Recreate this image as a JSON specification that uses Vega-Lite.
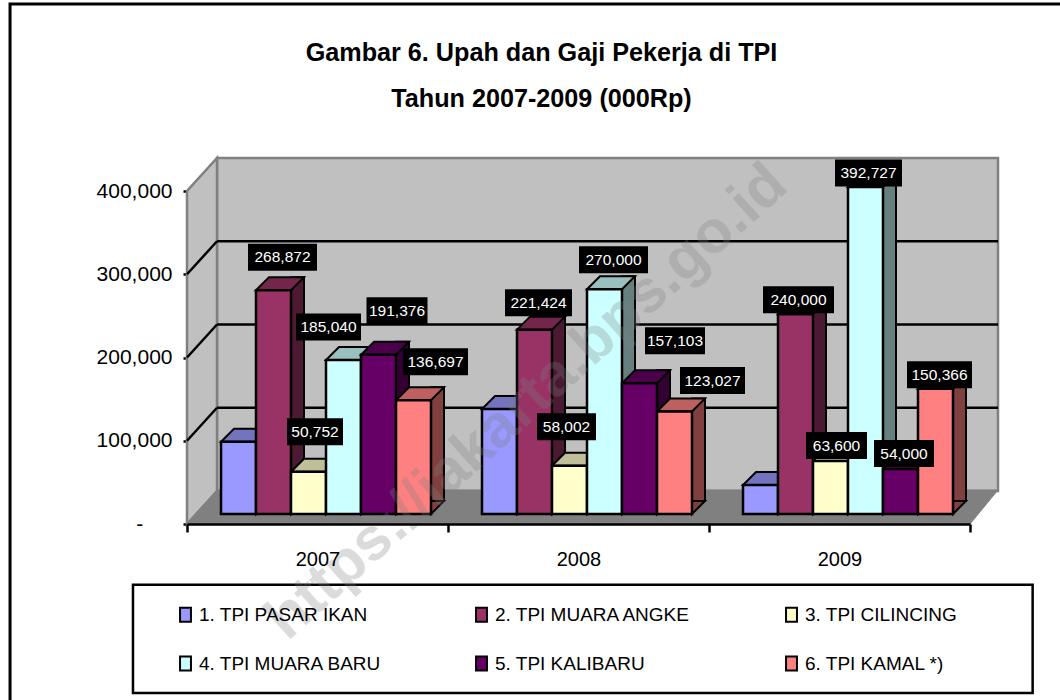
{
"$schema":"https://vega.github.io/schema/vega-lite/v6.json",
"width":783,"height":333,
"autosize":"none",
"padding":{"left":187,"top":191,"right":90,"bottom":176},
"background":"white",
"params":[
{"name":"lbl","value":{"268872":[-35,-33,69],"50752":[-2.5,-40,56],"185040":[11,-33,65],"191376":[79.5,-44,61],"136697":[118,-38.5,65],"221424":[-40,-27,67],"58002":[-12,-39,59],"270000":[35,-29.5,69],"157103":[96.5,-42.5,60],"123027":[134,-31,65],"240000":[-41,-14.5,71],"63600":[-3,-15.5,61],"392727":[29,-14,67],"54000":[64.5,-15.5,60],"150366":[100,-14,65]}}
],
"title":{"text":["Gambar 6. Upah dan Gaji Pekerja di TPI","Tahun 2007-2009 (000Rp)"],"anchor":"middle","dx":-37,"offset":-110,"font":"Liberation Sans","fontSize":25.2,"fontWeight":"bold","lineHeight":46,"color":"black"},
"config":{"view":{"stroke":null},"font":"Liberation Sans",
 "axisY":{"tickCount":5,"labelExpr":"datum.value==0?'-\u00a0\u00a0\u00a0\u00a0\u00a0\u200b':format(datum.value,',')","grid":false,"domainColor":"black","domainWidth":2.5,"tickColor":"black","tickWidth":2.5,"tickSize":4,"labelFontSize":21,"labelColor":"black","labelFont":"Liberation Sans","labelPadding":11,"zindex":1}},
"resolve":{"scale":{"x":"independent","color":"independent"}},
"layer":[
{"data":{"values":[{"k":"frame"}]},
 "layer":[
 {"mark":{"type":"rect","fill":"transparent","stroke":"black","strokeWidth":3},
  "encoding":{"x":{"datum":-0.226,"type":"quantitative","scale":{"domain":[0,1]},"axis":null},"x2":{"datum":1.3},
   "y":{"datum":624600,"type":"quantitative","title":null,"scale":{"domain":[0,400000],"nice":false}},
   "y2":{"datum":-400000}}},
 {"mark":{"type":"rect","fill":"transparent","stroke":"black","strokeWidth":2.5},
  "encoding":{"x":{"datum":-0.069,"type":"quantitative","scale":{"domain":[0,1]},"axis":null},"x2":{"datum":1.08},
   "y":{"datum":-73000,"type":"quantitative","title":null},"y2":{"datum":-203000}}},
 {"mark":{"type":"rect","fill":"#C0C0C0","stroke":"#808080","strokeWidth":2.5,"xOffset":30,"x2Offset":28,"yOffset":-33,"y2Offset":-33},
  "encoding":{"x":{"datum":0,"type":"quantitative","axis":null},"x2":{"datum":1},"y":{"datum":400000,"type":"quantitative","title":null},"y2":{"datum":0}}},
 {"mark":{"type":"point","shape":"M0,0L30,-33L30,-366L0,-333Z","size":4,"filled":true,"fill":"#C0C0C0","stroke":"#808080","strokeWidth":2.5,"opacity":1},
  "encoding":{"x":{"datum":0,"type":"quantitative","axis":null},"y":{"datum":0,"type":"quantitative","title":null}}},
 {"mark":{"type":"point","shape":"M0,0L30,-34L811,-34L783,0Z","size":4,"filled":true,"fill":"#808080","stroke":"#808080","strokeWidth":1,"opacity":1},
  "encoding":{"x":{"datum":0,"type":"quantitative","axis":null},"y":{"datum":0,"type":"quantitative","title":null}}}
 ]},
{"data":{"values":[{"tick":100000},{"tick":200000},{"tick":300000}]},
 "layer":[
 {"mark":{"type":"rule","stroke":"black","strokeWidth":2.5,"xOffset":30,"x2Offset":28,"yOffset":-33},
  "encoding":{"x":{"datum":0,"type":"quantitative","axis":null},"x2":{"datum":1},"y":{"field":"tick","type":"quantitative","title":null}}},
 {"mark":{"type":"point","shape":"M0,0L30,-33","size":4,"filled":false,"stroke":"black","strokeWidth":2.5,"opacity":1},
  "encoding":{"x":{"datum":0,"type":"quantitative","axis":null},"y":{"field":"tick","type":"quantitative","title":null}}}
 ]},
{"data":{"values":[
{"year":"2007","station":"1. TPI PASAR IKAN","value":86800},
{"year":"2007","station":"2. TPI MUARA ANGKE","value":268872},
{"year":"2007","station":"3. TPI CILINCING","value":50752},
{"year":"2007","station":"4. TPI MUARA BARU","value":185040},
{"year":"2007","station":"5. TPI KALIBARU","value":191376},
{"year":"2007","station":"6. TPI KAMAL *)","value":136697},
{"year":"2008","station":"1. TPI PASAR IKAN","value":126000},
{"year":"2008","station":"2. TPI MUARA ANGKE","value":221424},
{"year":"2008","station":"3. TPI CILINCING","value":58002},
{"year":"2008","station":"4. TPI MUARA BARU","value":270000},
{"year":"2008","station":"5. TPI KALIBARU","value":157103},
{"year":"2008","station":"6. TPI KAMAL *)","value":123027},
{"year":"2009","station":"1. TPI PASAR IKAN","value":34800},
{"year":"2009","station":"2. TPI MUARA ANGKE","value":240000},
{"year":"2009","station":"3. TPI CILINCING","value":63600},
{"year":"2009","station":"4. TPI MUARA BARU","value":392727},
{"year":"2009","station":"5. TPI KALIBARU","value":54000},
{"year":"2009","station":"6. TPI KAMAL *)","value":150366}
]},
 "encoding":{
  "x":{"field":"year","type":"nominal","scale":{"type":"band","paddingInner":0,"paddingOuter":0},
    "axis":{"title":null,"labelAngle":0,"tickBand":"extent","domainColor":"black","domainWidth":2.5,"tickColor":"black","tickWidth":2.5,"tickSize":8,"labelFontSize":20,"labelColor":"black","labelFont":"Liberation Sans","labelPadding":17,"grid":false,"zindex":1}},
  "y":{"field":"value","type":"quantitative","title":null}
 },
 "resolve":{"scale":{"color":"independent","xOffset":"independent"}},
 "layer":[
 {"mark":{"type":"rect","width":13,"stroke":"black","strokeWidth":2,"yOffset":-23,"y2Offset":-23},
  "encoding":{"xOffset":{"field":"station","type":"nominal","scale":{"type":"band","paddingInner":0,"paddingOuter":0,"range":[58,268]}},"y2":{"datum":0},"color":{"field":"station","type":"nominal","legend":null,"scale":{"range":["#4C4C80","#4C1933","#80806A","#668080","#330033","#804040"]}}}},
 {"mark":{"type":"point","shape":"M17.5,0L30.5,-13L17.5,-13Z","size":4,"filled":true,"stroke":"black","strokeWidth":2,"opacity":1,"yOffset":-10},
  "encoding":{"xOffset":{"field":"station","type":"nominal","scale":{"type":"band","paddingInner":0,"paddingOuter":0,"range":[34,244]}},"y":{"datum":0,"type":"quantitative","title":null},"color":{"field":"station","type":"nominal","legend":null,"scale":{"range":["#4C4C80","#4C1933","#80806A","#668080","#330033","#804040"]}}}},
 {"mark":{"type":"point","shape":"M-17.5,0L17.5,0L30.5,-13L-4.5,-13Z","size":4,"filled":true,"stroke":"black","strokeWidth":2,"opacity":1,"yOffset":-10},
  "encoding":{"xOffset":{"field":"station","type":"nominal","scale":{"type":"band","paddingInner":0,"paddingOuter":0,"range":[34,244]}},"color":{"field":"station","type":"nominal","legend":null,"scale":{"range":["#7373BF","#732649","#BFBF99","#99BFBF","#4C004C","#BF6060"]}}}},
 {"mark":{"type":"rect","width":35,"stroke":"black","strokeWidth":2.5,"yOffset":-10,"y2Offset":-10},
  "encoding":{"xOffset":{"field":"station","type":"nominal","scale":{"type":"band","paddingInner":0,"paddingOuter":0,"range":[34,244]}},"y2":{"datum":0},"color":{"field":"station","type":"nominal","scale":{"range":["#9999FF","#993366","#FFFFCC","#CCFFFF","#660066","#FF8080"]},
    "legend":{"orient":"none","legendX":-11,"legendY":414,"title":null,"columns":3,"direction":"horizontal","symbolType":"M-0.78,-1H0.78V1H-0.78Z","symbolSize":196,"symbolStrokeColor":"black","symbolStrokeWidth":2,"labelFontSize":19,"labelColor":"black","labelFont":"Liberation Sans","labelLimit":400,"labelOffset":4,"columnPadding":90,"rowPadding":26}}}},
 {"transform":[{"filter":"isValid(lbl[datum.value])"}],
  "layer":[
  {"mark":{"type":"rect","fill":"black","height":27,"width":{"expr":"lbl[datum.value][2]"},"xOffset":{"expr":"lbl[datum.value][0]"},"yOffset":{"expr":"lbl[datum.value][1]-10"}}},
  {"mark":{"type":"text","color":"white","fontSize":15.5,"font":"Liberation Sans","align":"center","baseline":"middle","xOffset":{"expr":"lbl[datum.value][0]"},"yOffset":{"expr":"lbl[datum.value][1]-10"}},
   "encoding":{"text":{"field":"value","type":"quantitative","format":","}}}
  ]}
 ]},
{"data":{"values":[{"wm":"https://jakarta.bps.go.id"}]},
 "mark":{"type":"text","fontSize":60,"font":"Liberation Sans","fontWeight":"bold","angle":318,"color":"#808080","opacity":0.28,"align":"center","baseline":"middle"},
 "encoding":{"x":{"datum":0.434,"type":"quantitative","scale":{"domain":[0,1]},"axis":null},"y":{"datum":146500,"type":"quantitative","title":null},"text":{"field":"wm","type":"nominal"}}}
]}
